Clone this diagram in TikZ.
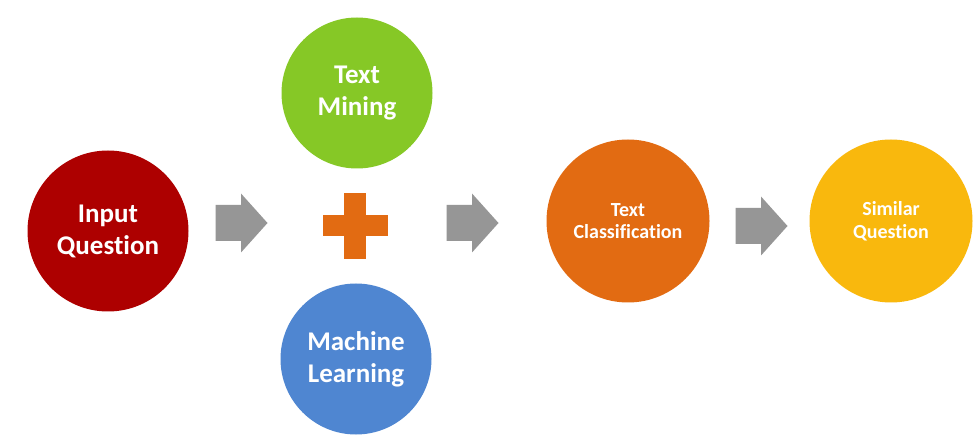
\documentclass[tikz,border=0pt]{standalone}
\usepackage{fontspec}
\setmainfont[Ligatures={NoCommon}]{Carlito}
\definecolor{cred}{HTML}{AD0000}
\definecolor{cgreen}{HTML}{86C826}
\definecolor{cblue}{HTML}{4F86D1}
\definecolor{corange}{HTML}{E26B12}
\definecolor{cyellow}{HTML}{F9B80D}
\definecolor{cgray}{HTML}{969696}
\tikzset{
  bubble/.style={circle, inner sep=0pt, draw=none, text=white, align=center},
  bigtext/.style={font=\bfseries\fontsize{27}{32}\selectfont},
  smalltext/.style={font=\bfseries\fontsize{20}{22.5}\selectfont},
  blockarrow/.pic={\fill[cgray] (-25.5,-18) -- (0,-18) -- (0,-29.5) -- (26.5,0) -- (0,29.5) -- (0,18) -- (-25.5,18) -- cycle;},
  plussign/.pic={\fill[corange] (-11,-33) rectangle (11,33); \fill[corange] (-32.5,-10.5) rectangle (32.5,10.5);}
}
\begin{document}
\begin{tikzpicture}[x=1pt,y=-1pt]
\useasboundingbox[fill=white] (0,0) rectangle (977,446);
\node[bubble, bigtext, fill=cred, minimum size=161pt] (input) at (108,231) {Input\\Question};
\node[bubble, bigtext, fill=cgreen, minimum size=151pt] (mining) at (357,93) {Text\\Mining};
\node[bubble, bigtext, fill=cblue, minimum size=151pt] (learning) at (356,359) {Machine\\Learning};
\node[bubble, smalltext, fill=corange, minimum size=163pt] (classif) at (628,221) {Text\\Classification};
\node[bubble, smalltext, fill=cyellow, minimum size=163pt] (similar) at (891,221) {Similar\\Question};
\coordinate (plus) at (355,226);
\coordinate (a1) at (241,223);
\coordinate (a2) at (472,223);
\coordinate (a3) at (761,226);
\pic at (plus) {plussign};
\pic at (a1) {blockarrow};
\pic at (a2) {blockarrow};
\pic at (a3) {blockarrow};
\end{tikzpicture}
\end{document}
